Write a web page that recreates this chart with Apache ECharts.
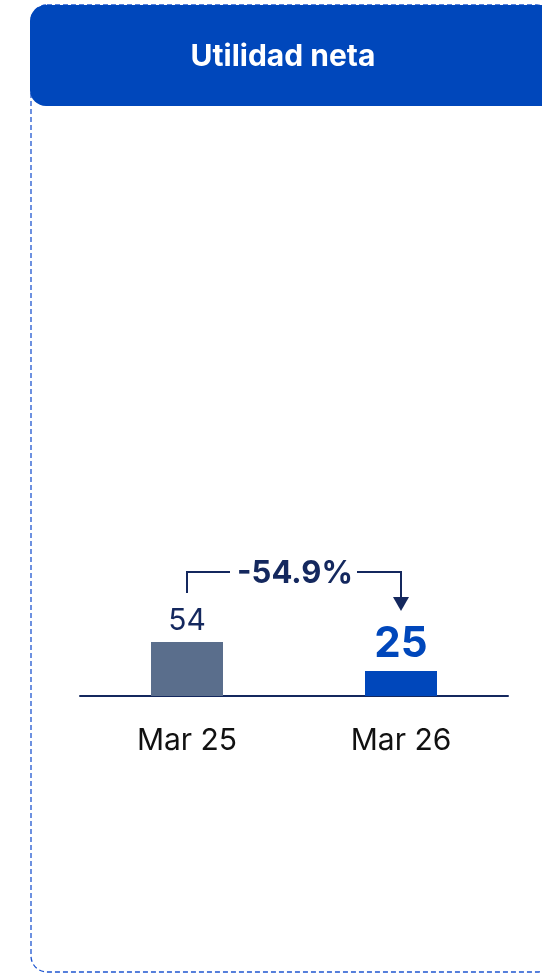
<!DOCTYPE html>
<html>
<head>
<meta charset="utf-8">
<script src="https://cdn.jsdelivr.net/npm/echarts@6/dist/echarts.min.js"></script>
<style>
  html, body { margin: 0; padding: 0; background: #ffffff; }
  #chart { width: 542px; height: 974px; }
</style>
</head>
<body>
<div id="chart"></div>
<script>
// datos
var titulo = 'Utilidad neta';
var periodos = ['Mar 25', 'Mar 26'];
var utilidad = [54, 25];
var variacion = '-54.9%';

var azul = '#0047bb';
var gris = '#5a6e8c';
var marino = '#14285e';

var chart = echarts.init(document.getElementById('chart'));

chart.setOption({
  animation: false,
  grid: { left: 80, right: 34, top: 596, bottom: 278 },
  xAxis: {
    type: 'category',
    data: periodos,
    axisTick: { show: false },
    axisLine: { lineStyle: { color: marino, width: 2 } },
    axisLabel: { color: '#111111', fontSize: 30, fontFamily: 'Inter', margin: 30 }
  },
  yAxis: { type: 'value', min: 0, max: 100, show: false },
  series: [{
    type: 'bar',
    barWidth: 72,
    data: [
      {
        value: utilidad[0],
        itemStyle: { color: gris },
        label: { color: marino, fontSize: 30, fontFamily: 'Inter', distance: 6 }
      },
      {
        value: utilidad[1],
        itemStyle: { color: azul },
        label: { color: azul, fontSize: 42, fontWeight: 'bold', fontFamily: 'Inter', distance: 6 }
      }
    ],
    label: { show: true, position: 'top' }
  }]
});

// marco, cabecera y flecha de variación
function dibujarExtras() {
  var p0 = chart.convertToPixel({ seriesIndex: 0 }, [0, utilidad[0]]);
  var p1 = chart.convertToPixel({ seriesIndex: 0 }, [1, utilidad[1]]);
  var yLinea = 572;
  var xMid = (p0[0] + p1[0]) / 2 + 1;
  var yPunta = 611;

  chart.setOption({
    graphic: [
      {
        type: 'rect', z: 1,
        shape: { x: 31, y: 5, width: 522, height: 967, r: 16 },
        style: { fill: 'none', stroke: '#1f56d0', lineWidth: 1.3, lineDash: [5, 3] }
      },
      {
        type: 'rect', z: 2,
        shape: { x: 30, y: 5, width: 530, height: 101, r: 16 },
        style: { fill: azul }
      },
      {
        type: 'text', z: 3,
        x: 283, y: 57,
        style: {
          text: titulo, fill: '#ffffff', font: 'bold 30px Inter',
          align: 'center', verticalAlign: 'middle'
        }
      },
      {
        type: 'polyline', z: 3,
        shape: { points: [[p0[0], yLinea + 21], [p0[0], yLinea], [xMid - 65, yLinea]] },
        style: { stroke: marino, lineWidth: 2, fill: 'none' }
      },
      {
        type: 'polyline', z: 3,
        shape: { points: [[xMid + 62, yLinea], [p1[0], yLinea], [p1[0], yPunta - 13]] },
        style: { stroke: marino, lineWidth: 2, fill: 'none' }
      },
      {
        type: 'polygon', z: 3,
        shape: { points: [[p1[0] - 8, yPunta - 14], [p1[0] + 8, yPunta - 14], [p1[0], yPunta]] },
        style: { fill: marino }
      },
      {
        type: 'text', z: 3,
        x: xMid, y: yLinea + 2,
        style: {
          text: variacion, fill: marino, font: 'bold 31px Inter',
          align: 'center', verticalAlign: 'middle'
        }
      }
    ]
  });
}
dibujarExtras();
</script>
</body>
</html>
